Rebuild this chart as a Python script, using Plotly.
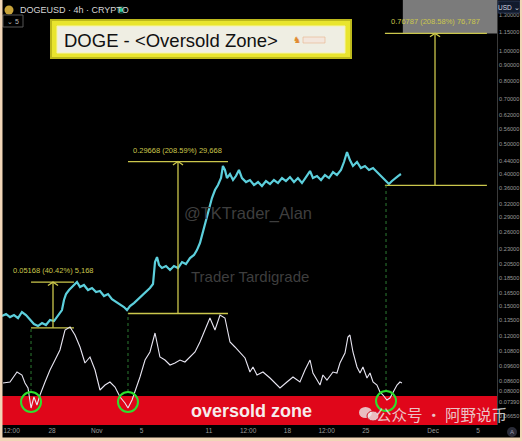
import numpy as np
import plotly.graph_objects as go

# ---------------- data ----------------
# x = days since 2024-10-28 00:00 (4h DOGEUSD chart)
price_day = [-4.46, -4.10, -3.75, -3.39, -3.03, -2.68, -2.32, -1.96, -1.61, -1.25, -0.89, -0.54, -0.18,
             0.18, 0.54, 0.89, 1.07, 1.25, 1.52, 1.78, 2.05, 2.23, 2.50, 2.85, 3.21, 3.57, 3.93, 4.28,
             4.64, 5.00, 5.35, 5.71, 6.07, 6.42, 6.69, 6.96, 7.31, 7.67, 8.03, 8.39, 8.74, 9.01, 9.19,
             9.37, 9.55, 9.81, 10.17, 10.53, 10.88, 11.24, 11.60, 11.95, 12.31, 12.67, 12.93, 13.20,
             13.47, 13.74, 14.01, 14.27, 14.54, 14.81, 15.08, 15.25, 15.43, 15.61, 15.88, 16.15, 16.41,
             16.68, 16.95, 17.31, 17.66, 18.02, 18.38, 18.73, 19.09, 19.45, 19.80, 20.16, 20.52, 20.87,
             21.23, 21.59, 21.94, 22.30, 22.66, 23.02, 23.28, 23.64, 24.00, 24.35, 24.71, 25.07, 25.42,
             25.78, 26.05, 26.32, 26.58, 26.85, 27.21, 27.56, 27.92, 28.28, 28.64, 28.99, 29.35, 29.71,
             30.06, 30.33, 30.60, 30.87, 31.13]
price_val = [0.1396, 0.1417, 0.1385, 0.1406, 0.1375, 0.1438, 0.1406, 0.1355, 0.1315, 0.1296, 0.1325,
             0.1306, 0.1355, 0.1345, 0.1396, 0.1459, 0.1572, 0.1643, 0.1693, 0.1731, 0.1770, 0.1796,
             0.1731, 0.1757, 0.1693, 0.1718, 0.1668, 0.1680, 0.1619, 0.1643, 0.1583, 0.1549, 0.1526,
             0.1492, 0.1459, 0.1503, 0.1537, 0.1583, 0.1619, 0.1668, 0.1718, 0.1770, 0.2083, 0.2162,
             0.2038, 0.1993, 0.2022, 0.1963, 0.2022, 0.1993, 0.2083, 0.2053, 0.2146, 0.2195, 0.2277,
             0.2399, 0.2603, 0.2845, 0.3110, 0.3349, 0.3554, 0.3688, 0.3885, 0.4247, 0.4123, 0.3885,
             0.4002, 0.3828, 0.3943, 0.4123, 0.3885, 0.3771, 0.3828, 0.3688, 0.3771, 0.3661, 0.3800,
             0.3716, 0.3828, 0.3744, 0.3885, 0.3800, 0.3914, 0.3771, 0.3885, 0.3744, 0.3914, 0.4092,
             0.3885, 0.3943, 0.3828, 0.3973, 0.3885, 0.4062, 0.3973, 0.4123, 0.4375, 0.4712, 0.4440,
             0.4247, 0.4375, 0.4184, 0.4247, 0.4123, 0.4184, 0.4062, 0.3943, 0.3828, 0.3716, 0.3800,
             0.3885, 0.3943, 0.4002]

osc_day = [-4.37, -3.75, -3.12, -2.68, -2.41, -2.14, -1.87, -1.61, -1.34, -1.07, -0.62, -0.18, 0.27,
           0.71, 1.16, 1.61, 2.05, 2.50, 2.94, 3.39, 3.84, 4.28, 4.73, 5.17, 5.62, 6.07, 6.51, 6.78,
           7.14, 7.40, 7.85, 8.30, 8.74, 9.19, 9.63, 10.08, 10.53, 10.97, 11.42, 11.86, 12.31, 12.76,
           13.20, 13.65, 14.09, 14.54, 14.99, 15.43, 15.88, 16.32, 16.77, 17.22, 17.66, 17.93, 18.29,
           18.82, 19.45, 20.07, 20.34, 20.96, 21.50, 22.12, 22.57, 23.02, 23.28, 23.91, 24.17, 24.53,
           25.07, 25.42, 25.69, 26.14, 26.40, 26.58, 26.85, 27.21, 27.48, 27.74, 28.10, 28.37, 28.64,
           28.99, 29.26, 29.53, 29.88, 30.15, 30.42, 30.78, 31.04, 31.22]
osc_val = [42, 43, 53, 50, 42, 37, 17, 28, 20, 30, 43, 55, 65, 75, 95, 98, 90, 78, 62, 68, 55, 35, 40,
           43, 38, 28, 22, 17, 25, 33, 48, 65, 73, 92, 68, 65, 60, 62, 65, 63, 68, 73, 83, 95, 107, 95,
           110, 107, 83, 78, 72, 67, 53, 58, 50, 53, 47, 40, 37, 43, 48, 43, 55, 65, 52, 40, 50, 45, 53,
           52, 62, 72, 88, 90, 73, 58, 52, 58, 47, 52, 43, 40, 33, 30, 25, 27, 33, 40, 43, 42]
oversold_level = 29

ytick_vals = [1.30, 1.15, 1.00, 0.90, 0.80, 0.70, 0.62, 0.56, 0.50, 0.44, 0.40, 0.36, 0.32, 0.29, 0.26,
              0.23, 0.205, 0.185, 0.165, 0.150, 0.135, 0.120, 0.108, 0.096, 0.086, 0.080, 0.0739, 0.0665]
ytick_text = [f"{v:.5f}" for v in ytick_vals]
xtick_vals = [-3.6, 0, 4, 8, 14, 17.5, 21, 24.5, 28, 34, 38]
xtick_text = ["12:00", "28", "Nov", "5", "11", "12:00", "18", "12:00", "25", "Dec", "5"]

measure_base = [0.12786, 0.14223, 0.36814]
measure_top = [0.17954, 0.43891, 1.13601]
measure_x0 = [-1.87, 6.78, 29.70]
measure_x1 = [1.96, 15.70, 38.80]
measure_xm = [0.09, 11.24, 34.17]
measure_label = ["0.05168 (40.42%) 5,168", "0.29668 (208.59%) 29,668", "0.76787 (208.58%) 76,787"]

signal_day = [-1.87, 6.78, 29.80]
signal_osc = [23, 23, 24]

# ---------------- layout helpers ----------------
W, H = 522, 441
ML, MR, MT, MB = 2, 25, 0, 16
PW, PH = W - ML - MR, H - MT - MB
YR = [-1.2062, 0.1629]
XR = [-4.46, 39.70]


def px(x):
    return (x - ML) / PW


def py(y):
    return (H - MB - y) / PH


def p2paper(p):
    return float((np.log10(p) - YR[0]) / (YR[1] - YR[0]))


YEL = "#cbc74c"
fig = go.Figure()

# price
fig.add_trace(go.Scatter(x=price_day, y=price_val, mode="lines",
                         line=dict(color="#5ccfdc", width=2.2), hoverinfo="skip"))
# oscillator
fig.add_trace(go.Scatter(x=osc_day, y=osc_val, yaxis="y2", mode="lines",
                         line=dict(color="#e8e6f2", width=1.1), hoverinfo="skip"))

# price range measurements
for b, t, x0, x1, xm in zip(measure_base, measure_top, measure_x0, measure_x1, measure_xm):
    fig.add_trace(go.Scatter(x=[x0, x1, None, x0, x1, None, xm, xm], y=[b, b, None, t, t, None, b, t],
                             mode="lines", line=dict(color=YEL, width=1.3), hoverinfo="skip"))
    fig.add_trace(go.Scatter(x=[xm - 0.45, xm, xm + 0.45], y=[t * 0.975, t, t * 0.975], mode="lines",
                             line=dict(color=YEL, width=1.3), hoverinfo="skip"))

shapes = []
# red oversold band
shapes.append(dict(type="rect", xref="paper", yref="y2", x0=0, x1=1, y0=-10, y1=oversold_level,
                   fillcolor="#e0061a", line=dict(width=0), layer="below"))
# grey box top-right
shapes.append(dict(type="rect", xref="x", yref="paper", x0=31.3, x1=XR[1], y0=p2paper(measure_top[2]),
                   y1=1, fillcolor="#7b7b7b", line=dict(width=0), layer="below"))
# dotted signal lines
for d, b in zip(signal_day, measure_base):
    shapes.append(dict(type="line", xref="x", yref="paper", x0=d, x1=d, y0=py(392), y1=p2paper(b),
                       line=dict(color="#2c7a32", width=1, dash="dot")))
# green circles
for d, v in zip(signal_day, signal_osc):
    shapes.append(dict(type="circle", xref="x", yref="y2", xsizemode="pixel", ysizemode="pixel",
                       xanchor=d, yanchor=v, x0=-10, x1=10, y0=-10, y1=10,
                       line=dict(color="#2ee02e", width=2)))
# title box
shapes.append(dict(type="rect", xref="paper", yref="paper", x0=px(50), x1=px(352), y0=py(59), y1=py(19),
                   fillcolor="#bdb91c", line=dict(width=0)))
shapes.append(dict(type="rect", xref="paper", yref="paper", x0=px(52), x1=px(350), y0=py(57), y1=py(21),
                   fillcolor="#e9e52e", line=dict(width=0)))
shapes.append(dict(type="rect", xref="paper", yref="paper", x0=px(57), x1=px(345), y0=py(53), y1=py(26),
                   fillcolor="#efeee3", line=dict(color="#f6f4a8", width=1)))
# small logo in title box
shapes.append(dict(type="rect", xref="paper", yref="paper", x0=px(303), x1=px(325), y0=py(43), y1=py(37),
                   fillcolor="#f3e6dc", line=dict(color="#e8b48a", width=0.6)))
# header coin + live dot + interval box
shapes.append(dict(type="circle", xref="paper", yref="paper", x0=px(4.5), x1=px(13.5), y0=py(14.5),
                   y1=py(5.5), fillcolor="#c9a43a", line=dict(width=0)))
shapes.append(dict(type="circle", xref="paper", yref="paper", x0=px(117), x1=px(125), y0=py(14),
                   y1=py(6), fillcolor="#0e3a2c", line=dict(width=0)))
shapes.append(dict(type="circle", xref="paper", yref="paper", x0=px(119), x1=px(123), y0=py(12),
                   y1=py(8), fillcolor="#22c993", line=dict(width=0)))
shapes.append(dict(type="rect", xref="paper", yref="paper", x0=px(3), x1=px(23), y0=py(27), y1=py(15),
                   fillcolor="#000", line=dict(color="#555555", width=1)))
# USD box
shapes.append(dict(type="rect", xref="paper", yref="paper", x0=px(498), x1=px(520), y0=py(13), y1=py(1),
                   fillcolor="#111a2c", line=dict(color="#2b3652", width=1)))
# wechat icon
shapes.append(dict(type="circle", xref="paper", yref="paper", x0=px(359), x1=px(372), y0=py(418),
                   y1=py(407), fillcolor="rgba(235,235,235,0.8)", line=dict(width=0)))
shapes.append(dict(type="circle", xref="paper", yref="paper", x0=px(367), x1=px(379), y0=py(421),
                   y1=py(411), fillcolor="rgba(235,235,235,0.8)", line=dict(color="#d01020", width=1)))
# bottom-right icon
shapes.append(dict(type="circle", xref="paper", yref="paper", x0=px(507), x1=px(517), y0=py(437),
                   y1=py(427), fillcolor="#2a2c38", line=dict(width=0)))
# peach frame
for x0, x1, y0, y1 in [(0, 2.5, 0, 441), (0, 522, 437.5, 441), (520, 522, 0, 441)]:
    shapes.append(dict(type="rect", xref="paper", yref="paper", x0=px(x0), x1=px(x1), y0=py(y1),
                       y1=py(y0), fillcolor="#f1d6b8", line=dict(width=0)))

ann = []
for t, xm, lab in zip(measure_top, measure_xm, measure_label):
    ann.append(dict(x=xm, y=float(np.log10(t)), xref="x", yref="y", text=lab, showarrow=False,
                    yanchor="bottom", yshift=5, font=dict(size=7.5, color=YEL, family="Liberation Sans")))


def txt(x, y, s, size, color, xanchor="center", family="Liberation Sans", bold=False):
    ann.append(dict(x=px(x), y=py(y), xref="paper", yref="paper", text=f"<b>{s}</b>" if bold else s,
                    showarrow=False, xanchor=xanchor, yanchor="middle",
                    font=dict(size=size, color=color, family=family)))


txt(62, 40.5, "DOGE - &lt;Oversold Zone&gt;", 18.5, "#111111", xanchor="left")
txt(297, 40, "♞", 9, "#e08a30")
txt(18, 10, "DOGEUSD · 4h · CRYPTO", 9, "#d6d6d6", xanchor="left")
txt(13, 21.5, "⌄ 5", 7, "#bbbbbb")
txt(509, 7, "USD ⌄", 6.5, "#d8d8e0")
txt(248, 213, "@TKTrader_Alan", 16.5, "#3e3e3e")
txt(250, 276, "Trader Tardigrade", 15, "#3e3e3e")
txt(251, 410.5, "oversold zone", 18, "#f6ecec", bold=True)
txt(441, 414, "公众号 · 阿野说币", 15.5, "rgba(238,238,238,0.82)", family="Noto Sans CJK SC")
txt(512, 432, "A", 6, "#9a9cb0")

fig.update_layout(
    width=W, height=H, margin=dict(l=ML, r=MR, t=MT, b=MB),
    paper_bgcolor="#000000", plot_bgcolor="rgba(0,0,0,0)", showlegend=False,
    font=dict(family="Liberation Sans"),
    xaxis=dict(range=XR, tickvals=xtick_vals, ticktext=xtick_text, showgrid=False, zeroline=False,
               ticks="", showline=False, tickfont=dict(size=6.5, color="#9c9c9c")),
    yaxis=dict(type="log", range=YR, side="right", tickvals=ytick_vals, ticktext=ytick_text,
               showgrid=False, zeroline=False, ticks="", showline=True, linecolor="#3a3a3a",
               tickfont=dict(size=5.6, color="#9a9a9a")),
    yaxis2=dict(overlaying="y", range=[0, 425], visible=False),
    shapes=shapes, annotations=ann,
)

fig.write_html("out.html", config={"displayModeBar": False},
               post_script="document.body.style.margin='0px';")
